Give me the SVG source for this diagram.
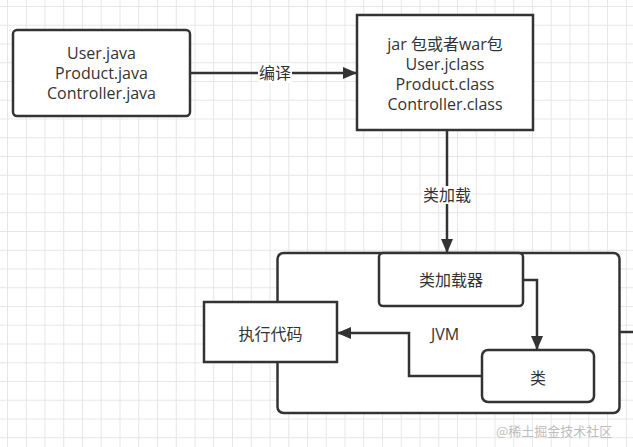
<svg xmlns="http://www.w3.org/2000/svg" width="633" height="447" viewBox="0 0 633 447">
  <defs>
    <pattern id="grid" patternUnits="userSpaceOnUse" x="7" y="6" width="18.75" height="18.75">
      <path d="M0 0.5H18.75M0.5 0V18.75" fill="none" stroke="#e6e6e6" stroke-width="1"/>
    </pattern>
    <marker id="arrow" viewBox="0 0 14 12" refX="14" refY="6" markerWidth="14" markerHeight="12" markerUnits="userSpaceOnUse" orient="auto">
      <path d="M0 0L14 6L0 12z" fill="#333"/>
    </marker>
    <style>
      .box { fill: #fff; stroke: #333; stroke-width: 2.5; }
      .t { font-family: "Open Sans", "Noto Sans CJK SC", sans-serif; font-size: 16px; fill: #333; text-anchor: middle; }
      .conn { fill: none; stroke: #333; stroke-width: 2.5; }
      .wm { font-family: "Noto Sans CJK SC", sans-serif; font-size: 13px; fill: #bdbdbd; }
    </style>
  </defs>
  <rect width="633" height="447" fill="#fff"/>
  <rect width="633" height="447" fill="url(#grid)"/>

  <g id="jvm">
    <rect class="box" x="277.5" y="253" width="342" height="160" rx="6"/>
    <text class="t" x="445" y="340">JVM</text>
  </g>

  <g id="source">
    <rect class="box" x="13" y="30" width="177" height="86" rx="4"/>
    <text class="t" x="101.5" y="59">User.java</text>
    <text class="t" x="101.5" y="79">Product.java</text>
    <text class="t" x="101.5" y="99">Controller.java</text>
  </g>

  <g id="jar">
    <rect class="box" x="357" y="15" width="176" height="115"/>
    <text class="t" x="445" y="50">jar 包或者war包</text>
    <text class="t" x="445" y="70">User.jclass</text>
    <text class="t" x="445" y="90">Product.class</text>
    <text class="t" x="445" y="110">Controller.class</text>
  </g>

  <g id="classloader">
    <rect class="box" x="379" y="253" width="144" height="53" rx="4"/>
    <text class="t" x="451" y="286">类加载器</text>
  </g>

  <g id="exec">
    <rect class="box" x="204" y="302" width="133" height="60"/>
    <text class="t" x="270.5" y="340">执行代码</text>
  </g>

  <g id="cls">
    <rect class="box" x="482" y="350" width="112" height="52" rx="6"/>
    <text class="t" x="538" y="384">类</text>
  </g>

  <g id="connectors">
    <line class="conn" x1="190" y1="73" x2="357" y2="73" marker-end="url(#arrow)"/>
    <rect x="258" y="63" width="34" height="20" fill="#fff"/>
    <text class="t" x="275" y="79">编译</text>

    <line class="conn" x1="447" y1="130" x2="447" y2="253" marker-end="url(#arrow)"/>
    <rect x="422" y="186" width="50" height="18" fill="#fff"/>
    <text class="t" x="447" y="201">类加载</text>

    <polyline class="conn" points="523,280 537,280 537,350" marker-end="url(#arrow)"/>
    <polyline class="conn" points="482,376 409,376 409,333 337,333" marker-end="url(#arrow)"/>
    <line class="conn" x1="619" y1="332" x2="633" y2="332"/>
  </g>

  <text class="wm" x="496" y="436">@稀土掘金技术社区</text>
</svg>
